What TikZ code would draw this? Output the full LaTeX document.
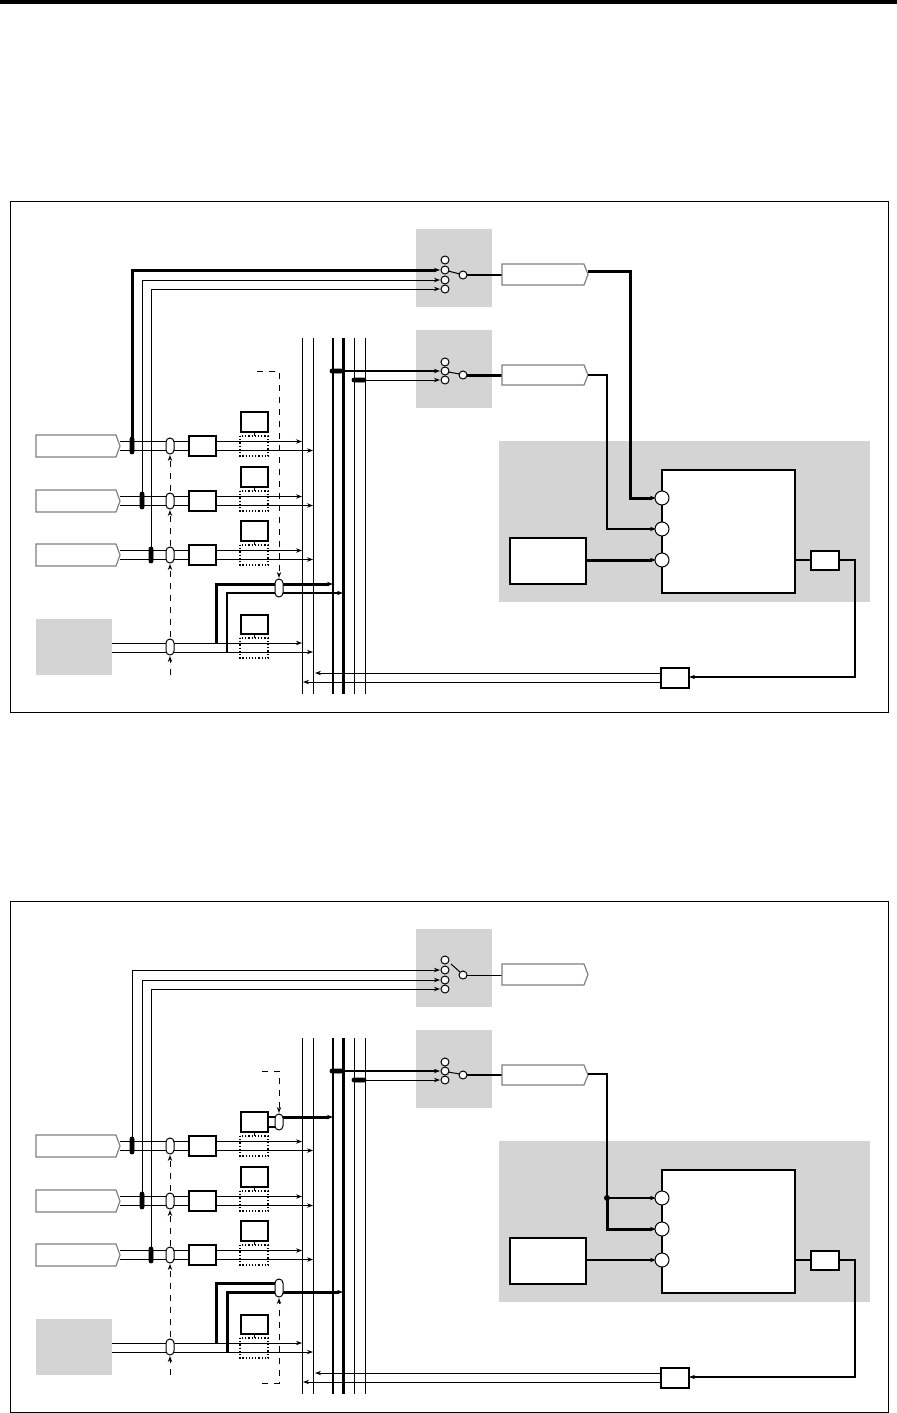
\documentclass[tikz,border=0pt]{standalone}
\usepackage{tikz}
\usetikzlibrary{arrows.meta,calc}
\definecolor{boxgray}{gray}{0.83}
\tikzset{
  wire/.style={line width=0.5pt},
  fat/.style={line width=1pt},
  fatter/.style={line width=1.5pt},
  tip/.style={-{Stealth[length=3pt,width=2.2pt]}},
  graybox/.style={fill=boxgray,draw=none},
  port/.style={circle,draw,fill=white,inner sep=0pt,minimum size=4pt,line width=0.5pt},
  bigport/.style={circle,draw,fill=white,inner sep=0pt,minimum size=7pt,line width=0.5pt},
  blk/.style={draw,fill=white,line width=0.6pt},
  dotblk/.style={draw,densely dotted,line width=0.6pt},
  pill/.style={draw,fill=white,rounded corners=2pt,line width=0.5pt},
  tap/.style={fill=black,rounded corners=1pt},
  sig/.style={draw=gray,fill=white,line width=0.6pt},
}
% signal-shaped box: x1,y1,x2,y2
\newcommand\sigbox[4]{\draw[sig] (#1,#2) -- (#3-4,#2) -- (#3,{(#2+#4)/2}) -- (#3-4,#4) -- (#1,#4) -- cycle;}
\newcommand\pillat[3]{\draw[pill] (#1-4,#2-#3) rectangle (#1+4,#2+#3);}
% one panel: #1 y offset, #2 variant
\newcommand\drawpanel[2]{%
\begin{scope}[shift={(0,#1)}]
\draw[wire] (10,201) rectangle (888,712);
\fill[graybox] (416,229) rectangle (492,307);
\fill[graybox] (416,330) rectangle (492,408);
\fill[graybox] (499,441) rectangle (870,602);
\fill[graybox] (36,619) rectangle (112,675);
% bus
\foreach \x in {302,313,354,365} \draw[wire] (\x,338) -- (\x,694);
\draw[fat] (333,338) -- (333,694);
\draw[fatter] (343,338) -- (343,694);
% switch feeds
\ifnum#2=1 \draw[fatter,tip] (132,445) -- (132,270) -- (440,270);
\else \draw[wire,tip] (132,445) -- (132,270) -- (440,270); \fi
\draw[wire,tip] (142,500) -- (142,280) -- (440,280);
\draw[wire,tip] (151,555) -- (151,289) -- (440,289);
\draw[fat,tip] (333,371) -- (440,371);
\draw[wire,tip] (354,380) -- (440,380);
\draw[tap] (330,369) rectangle (343,373);
\draw[tap] (352,378) rectangle (366,382);
% input rows
\foreach \y in {446,501,555} {
  \sigbox{36}{\y-11}{120}{\y+11}
  \draw[wire,tip] (120,\y-4.5) -- (302,\y-4.5);
  \draw[wire,tip] (120,\y+4.5) -- (313,\y+4.5);
  \draw[blk] (189,\y-10) rectangle (216,\y+10);
  \draw[dotblk] (240,\y-10) rectangle (268,\y+10);
  \draw[wire] (254,\y-14) -- (254,\y-10);
  \pillat{170}{\y}{8}
}
\foreach \y in {501,555} \draw[blk] (241,\y-34) rectangle (268,\y-14);
\draw[tap] (130,437) rectangle (134,454);
\draw[tap] (140,492) rectangle (144,509);
\draw[tap] (149,547) rectangle (153,563);
% row 4
\draw[wire,tip] (112,643) -- (302,643);
\draw[wire,tip] (112,652) -- (313,652);
\draw[blk] (241,615) rectangle (268,634);
\draw[dotblk] (240,638) rectangle (268,658);
\draw[wire] (254,634) -- (254,638);
\pillat{170}{647}{8}
\fill (216,643) circle (1.2) (227,652) circle (1.2);
% dashed control
\foreach \a/\b in {675/656,637/564,546/510,491/455}
  \draw[wire,dashed,tip] (170,\a) -- (170,\b);
\ifnum#2=1
  \draw[fatter,tip] (216,643) -- (216,584) -- (333,584);
  \draw[fat,tip] (227,652) -- (227,593) -- (343,593);
  \draw[wire,dashed,tip] (257,371) -- (279,371) -- (279,578);
  \pillat{279}{588}{9}
  \draw[blk] (241,412) rectangle (268,432);
\else
  \draw[fatter] (216,643) -- (216,583) -- (279,583);
  \draw[fatter,tip] (227,652) -- (227,592) -- (343,592);
  \draw[wire,dashed,tip] (262,683) -- (279,683) -- (279,598);
  \draw[wire,dashed,tip] (262,371) -- (279,371) -- (279,413);
  \pillat{279}{588}{9}
  \draw[fat] (268,417) -- (279,417) (268,427) -- (279,427);
  \draw[fatter,tip] (283,417) -- (333,417);
  \draw[blk] (241,412) rectangle (268,432);
  \pillat{279}{422}{8}
\fi
% switches
\ifnum#2=1 \draw[fat] (463,275) -- (502,275); \else \draw[wire] (463,275) -- (502,275); \fi
\ifnum#2=1 \draw[fatter] (463,375) -- (502,375); \else \draw[fat] (463,375) -- (502,375); \fi
\foreach \y in {260,270,280,289} \node[port] at (445,\y) {};
\node[port] at (463,275) {};
\ifnum#2=1 \draw[wire] (448,271) -- (460,274); \else \draw[wire] (451,264) -- (460,272); \fi
\foreach \y in {362,371,380} \node[port] at (445,\y) {};
\node[port] at (463,375) {};
\draw[wire] (448,372) -- (460,374);
\sigbox{502}{264}{588}{285}
\sigbox{502}{365}{588}{385}
% processing area
\draw[blk] (662,470) rectangle (795,593);
\draw[blk] (510,538) rectangle (586,584);
\draw[blk] (811,551) rectangle (839,570);
\draw[blk] (661,668) rectangle (689,688);
\ifnum#2=1
  \draw[fatter,tip] (588,271) -- (630,271) -- (630,498) -- (656,498);
  \draw[fat,tip] (588,375) -- (607,375) -- (607,529) -- (656,529);
  \draw[fatter,tip] (586,560) -- (656,560);
\else
  \draw[fat,tip] (588,374) -- (607,374) -- (607,498) -- (656,498);
  \draw[fatter,tip] (607,498) -- (607,529) -- (656,529);
  \fill (607,498) circle (3);
  \draw[fat,tip] (586,560) -- (656,560);
\fi
\foreach \y in {498,529,560} \node[bigport] at (662,\y) {};
\draw[fat] (795,560) -- (811,560);
\draw[fat,tip] (839,560) -- (855,560) -- (855,677) -- (689,677);
\draw[wire,tip] (661,673) -- (315,673);
\draw[wire,tip] (661,682) -- (303,682);
\end{scope}}
\begin{document}
\begin{tikzpicture}[x=0.5pt,y=-0.5pt]
\useasboundingbox (0,0) rectangle (897,1413);
\fill (0,0) rectangle (897,4);
\drawpanel{0}{1}
\drawpanel{700}{2}
\end{tikzpicture}
\end{document}
